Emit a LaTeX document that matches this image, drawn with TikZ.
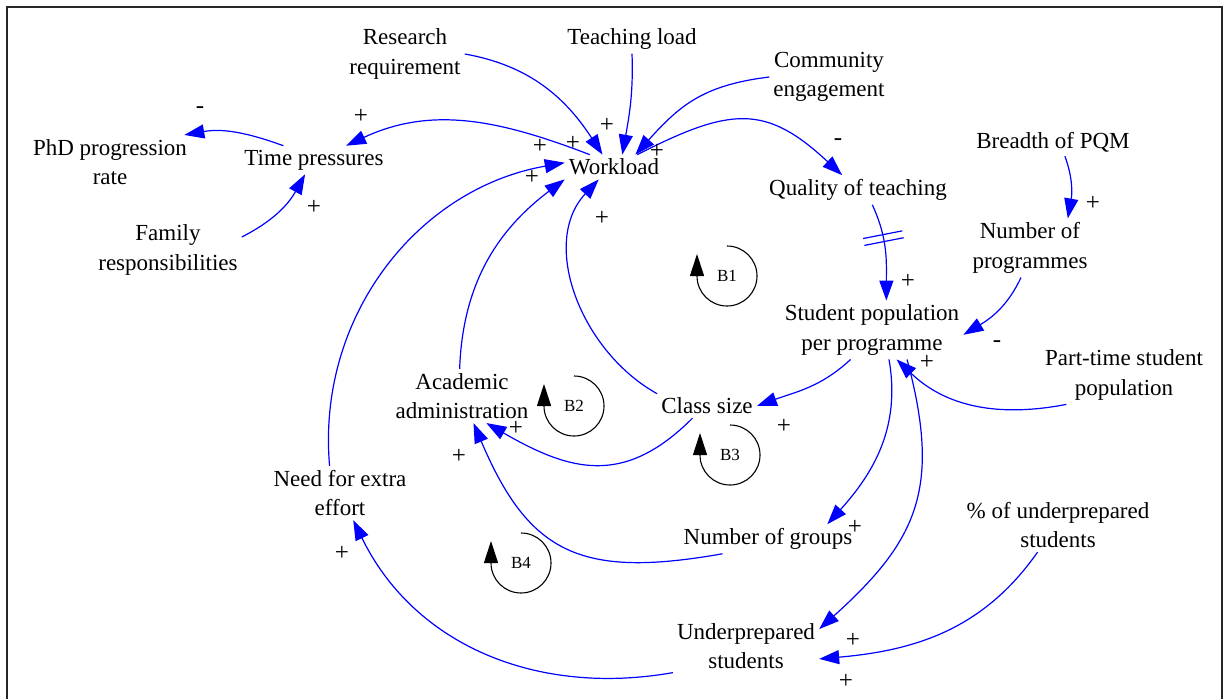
\documentclass[tikz,border=0pt]{standalone}
\usepackage{fontspec}
\setmainfont{Liberation Serif}
\usetikzlibrary{arrows.meta,decorations.markings}

\newcommand{\cldfont}{\fontsize{23}{29.5}\selectfont}
\newcommand{\polfont}{\fontsize{25}{28}\selectfont}
\newcommand{\loopfont}{\fontsize{17}{20}\selectfont}

\begin{document}
\begin{tikzpicture}
  [
    x=1pt, y=1pt,
    var/.style={align=center, font=\cldfont, inner sep=4pt},
    link/.style={blue, line width=1.2pt, -{Triangle[length=20pt,width=14pt]}},
    pol/.style={font=\polfont, inner sep=0pt},
    loopname/.style={font=\loopfont, inner sep=0pt},
    looparrow/.style={line width=1.1pt, -{Triangle[length=22pt,width=14pt]}},
    delay/.style={postaction={decorate, decoration={markings,
      mark=at position 0.36 with {\draw[blue, line width=1.2pt, -]
        (-3.5pt,-20pt) -- (-3.5pt,20pt) (3.5pt,-20pt) -- (3.5pt,20pt);}}}}
  ]
  \useasboundingbox (0,0) rectangle (1230,-698);
  \draw[line width=2pt, black!85] (7,-7) rectangle (1222,-720);

  % variables
  \node[var] (wl) at (614,-167) {Workload};
  \node[var] (rr) at (405,-54) {Research\\requirement};
  \node[var] (tl) at (632,-39) {Teaching load};
  \node[var] (ce) at (829,-77) {Community\\engagement};
  \node[var] (phd) at (110,-162) {PhD progression\\rate};
  \node[var] (tp) at (314,-160) {Time pressures};
  \node[var] (qt) at (858,-190) {Quality of teaching};
  \node[var] (bp) at (1053,-142) {Breadth of PQM};
  \node[var] (np) at (1030,-248) {Number of\\programmes};
  \node[var] (fr) at (168,-250) {Family\\responsibilities};
  \node[var] (sp) at (872,-330) {Student population\\per programme};
  \node[var] (pt) at (1124,-375) {Part-time student\\population};
  \node[var] (aa) at (462,-396) {Academic\\administration};
  \node[var] (cs) at (707,-406) {Class size};
  \node[var] (ne) at (340,-493) {Need for extra\\effort};
  \node[var] (ng) at (768,-539) {Number of groups};
  \node[var] (pu) at (1058,-525) {\% of underprepared\\students};
  \node[var] (us) at (746,-646) {Underprepared\\students};

  % links
  \draw[link] (rr.east) to[out=-10,in=123] (wl.133);
  \draw[link] (tl.south) to[out=-88,in=80] (wl.56);
  \draw[link] (ce.west) to[out=187,in=48,looseness=1.1] (wl.30);
  \draw[link] (wl.28) to[out=27,in=137,looseness=1.3] (qt.137);
  \draw[link] (wl.153) to[out=159,in=25] (tp.24);
  \draw[link] (tp.155) to[out=160,in=10] (phd.20);
  \draw[link] (fr.10) to[out=27,in=241] (tp.-122);
  \draw[link] (bp.-50) to[out=-70,in=80] (np.38);
  \draw[link, delay] (qt.-46) to[out=-65,in=90] (sp.64);
  \draw[link] (np.-107) to[out=-115,in=31] (sp.-3);
  \draw[link] (pt.-153) to[out=191,in=-44] (sp.-50);
  \draw[link] (sp.-126) to[out=-137,in=20] (cs.east);
  \draw[link] (sp.-60) to[out=-80,in=48] (ng.14);
  \draw[link] (sp.-40) to[out=-75,in=42,looseness=1.2] (us.13);
  \draw[link] (pu.-127) to[out=-125,in=5] (us.-10);
  \draw[link] (cs.north west) to[out=151,in=-133] (wl.-141);
  \draw[link] (cs.-140) to[out=-135,in=-30,looseness=1.2] (aa.-48);
  \draw[link] (ng.-162) to[out=190,in=-67,looseness=1.3] (aa.-67);
  \draw[link] (aa.95) to[out=88,in=-143] (wl.south west);
  \draw[link] (ne.111) to[out=95,in=190] (wl.175);
  \draw[link] (us.-160) to[out=190,in=-64] (ne.-64);

  % polarities
  \node[pol] (s1) at (607,-125) {+};
  \node[pol] (s2) at (540,-146) {+};
  \node[pol] (s3) at (573,-143) {+};
  \node[pol] (s4) at (657,-151) {+};
  \node[pol] (s5) at (532,-177) {+};
  \node[pol] (s6) at (602,-218) {+};
  \node[pol] (s7) at (361,-116) {+};
  \node[pol] (s8) at (200,-110) {-};
  \node[pol] (s9) at (314,-207) {+};
  \node[pol] (s10) at (838,-142) {-};
  \node[pol] (s11) at (1093,-203) {+};
  \node[pol] (s12) at (908,-281) {+};
  \node[pol] (s13) at (997,-344) {-};
  \node[pol] (s14) at (927,-362) {+};
  \node[pol] (s15) at (784,-426) {+};
  \node[pol] (s16) at (855,-527) {+};
  \node[pol] (s17) at (853,-640) {+};
  \node[pol] (s18) at (846,-681) {+};
  \node[pol] (s19) at (516,-428) {+};
  \node[pol] (s20) at (459,-456) {+};
  \node[pol] (s21) at (342,-553) {+};

  % loops
  \node[loopname] (b1) at (727,-276) {B1};
  \node[loopname] (b2) at (574,-406) {B2};
  \node[loopname] (b3) at (730,-455) {B3};
  \node[loopname] (b4) at (521,-563) {B4};
  \foreach \lp in {b1,b2,b3,b4}
    \draw[looparrow] ([yshift=30pt]\lp.center) arc[start angle=90,end angle=-180,radius=30pt] -- ++(0,22pt);
\end{tikzpicture}
\end{document}
